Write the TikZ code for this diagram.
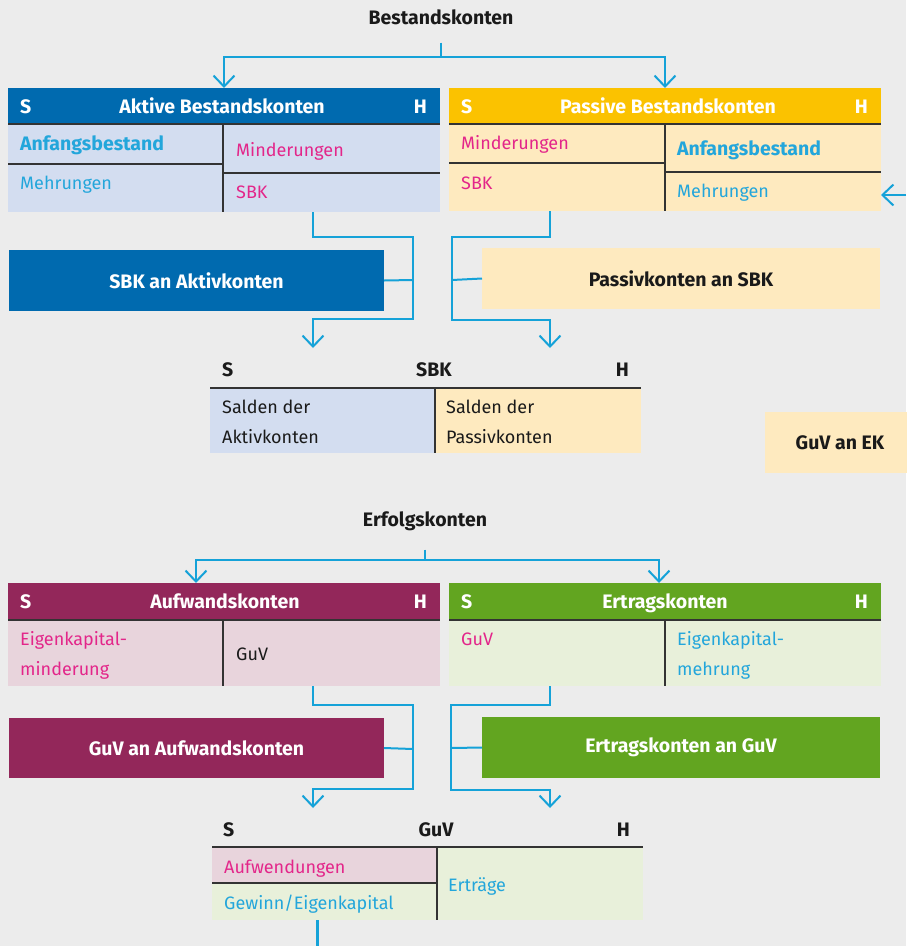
\documentclass[tikz,border=0pt]{standalone}
\usepackage{fontspec}
\setmainfont{Fira Sans}
\usetikzlibrary{arrows.meta,calc}

\definecolor{bg}{HTML}{ECECEC}
\definecolor{aktivH}{HTML}{006AAF}
\definecolor{aktivL}{HTML}{D3DDF0}
\definecolor{passivH}{HTML}{FBC200}
\definecolor{passivL}{HTML}{FEEABF}
\definecolor{aufwH}{HTML}{93275A}
\definecolor{aufwL}{HTML}{E8D4DC}
\definecolor{ertrH}{HTML}{62A520}
\definecolor{ertrL}{HTML}{E8F0DA}
\definecolor{flow}{HTML}{15A2D8}
\definecolor{txtMag}{HTML}{E3268A}
\definecolor{txtCyan}{HTML}{23A6DB}
\definecolor{txtDark}{HTML}{1A1A1A}
\definecolor{ruleDark}{HTML}{333333}

\newcommand\fsz{\fontsize{18}{21}\selectfont}
\newcommand\fsb{\fontsize{19.5}{22}\selectfont\bfseries}

\tikzset{
  cell/.style={anchor=north west, inner sep=0pt, outer sep=0pt, draw=none},
  lbl/.style={anchor=base west, inner sep=0pt, font=\fsz},
  lblB/.style={anchor=base west, inner sep=0pt, font=\fsb},
  lblR/.style={anchor=base east, inner sep=0pt, font=\fsb},
  hdtxt/.style={anchor=base, inner sep=0pt, font=\fsb},
  strong/.style={font=\fsb},
  rulel/.style={draw=ruleDark, line width=1.6pt},
  conn/.style={draw=flow, line width=2pt},
  arr/.style={conn, -{Straight Barb[length=11pt,width=21pt]}},
}

\begin{document}
\begin{tikzpicture}[x=1pt,y=-1pt]
\fill[bg] (0,0) rectangle (906,946);
\useasboundingbox (0,0) rectangle (906,946);

%% ---------------- Bestandskonten ----------------
\node[hdtxt, text=txtDark] (best) at (441,24) {Bestandskonten};

% Aktive Bestandskonten
\node[cell, fill=aktivH, minimum width=432pt, minimum height=36pt] (akh) at (8,88) {};
\node[cell, fill=aktivL, minimum width=432pt, minimum height=88pt] (akb) at (8,124) {};
\node[lblB, text=white] (akS) at (20,113) {S};
\node[lblR, text=white] (akH) at (427,113) {H};
\node[hdtxt, text=white] (akT) at (222,113) {Aktive Bestandskonten};
\draw[rulel] (akb.north west) -- (akb.north east);
\draw[rulel] (223,124) -- (223,212);
\draw[rulel] (8,164) -- (223,164);
\draw[rulel] (223,173) -- (440,173);
\node[lblB, text=txtCyan] (ak1) at (20,150) {Anfangsbestand};
\node[lbl, text=txtCyan] (ak2) at (20,189) {Mehrungen};
\node[lbl, text=txtMag] (ak3) at (236,156) {Minderungen};
\node[lbl, text=txtMag] (ak4) at (236,198) {SBK};

% Passive Bestandskonten
\node[cell, fill=passivH, minimum width=432pt, minimum height=36pt] (pah) at (449,88) {};
\node[cell, fill=passivL, minimum width=432pt, minimum height=87pt] (pab) at (449,124) {};
\node[lblB, text=white] (paS) at (461,113) {S};
\node[lblR, text=white] (paH) at (868,113) {H};
\node[hdtxt, text=white] (paT) at (668,113) {Passive Bestandskonten};
\draw[rulel] (pab.north west) -- (pab.north east);
\draw[rulel] (665,124) -- (665,211);
\draw[rulel] (449,163) -- (665,163);
\draw[rulel] (665,172) -- (881,172);
\node[lbl, text=txtMag] (pa1) at (461,149) {Minderungen};
\node[lbl, text=txtMag] (pa2) at (461,189) {SBK};
\node[lblB, text=txtCyan] (pa3) at (677,155) {Anfangsbestand};
\node[lbl, text=txtCyan] (pa4) at (677,197) {Mehrungen};

% Booking boxes
\node[cell, fill=aktivH, minimum width=375pt, minimum height=61pt, strong, text=white] (sbkak) at (9,250) {SBK an Aktivkonten};
\node[cell, fill=passivL, minimum width=398pt, minimum height=61pt, strong, text=txtDark] (passbk) at (482,248) {Passivkonten an SBK};
\node[cell, fill=passivL, minimum width=150pt, minimum height=61pt, strong, text=txtDark] (guvek) at (765,412) {GuV an EK};

% SBK T-account
\node[lblB, text=txtDark] (sbS) at (222,376) {S};
\node[hdtxt, text=txtDark] (sbT) at (434,376) {SBK};
\node[lblR, text=txtDark] (sbH) at (629,376) {H};
\node[cell, fill=aktivL, minimum width=225pt, minimum height=65pt] (sbl) at (210,388) {};
\node[cell, fill=passivL, minimum width=206pt, minimum height=65pt] (sbr) at (435,388) {};
\draw[rulel] (sbl.north west) -- (sbr.north east);
\draw[rulel] (sbl.north east) -- (sbl.south east);
\node[lbl, text=txtDark] (sb1) at (222,413) {Salden der};
\node[lbl, text=txtDark] (sb2) at (222,443) {Aktivkonten};
\node[lbl, text=txtDark] (sb3) at (446,413) {Salden der};
\node[lbl, text=txtDark] (sb4) at (446,443) {Passivkonten};

% Connectors (Bestandskonten)
\coordinate (bsplit) at (441,57);
\draw[conn, shorten <=18pt] (best.south) -- (bsplit);
\draw[arr] (bsplit) -| (akh.north);
\draw[arr] (bsplit) -| (pah.north);
\coordinate (edgeR) at (906,195);
\draw[arr] (edgeR) -- (pab.east |- edgeR);

\coordinate (akx) at (313,0);
\coordinate (akbus) at (413,280);
\coordinate (sbkinL) at (313,348);
\draw[arr] (akb.south -| akx) -- (313,237) -- (413,237) -- (413,319) -- (313,319) -- (sbkinL);
\draw[conn] (sbkak.east) -- (akbus);

\coordinate (pax) at (550,0);
\coordinate (pabus) at (452,280);
\coordinate (sbkinR) at (550,348);
\draw[arr] (pab.south -| pax) -- (550,237) -- (452,237) -- (452,320) -- (550,320) -- (sbkinR);
\draw[conn] (passbk.west) -- (pabus);

%% ---------------- Erfolgskonten ----------------
\node[hdtxt, text=txtDark] (erf) at (425,526) {Erfolgskonten};

% Aufwandskonten
\node[cell, fill=aufwH, minimum width=432pt, minimum height=37pt] (auh) at (8,583) {};
\node[cell, fill=aufwL, minimum width=432pt, minimum height=66pt] (aub) at (8,620) {};
\node[lblB, text=white] (auS) at (20,608) {S};
\node[lblR, text=white] (auH) at (427,608) {H};
\node[hdtxt, text=white] (auT) at (225,608) {Aufwandskonten};
\draw[rulel] (aub.north west) -- (aub.north east);
\draw[rulel] (223,620) -- (223,686);
\node[lbl, text=txtMag] (au1) at (20,645) {Eigenkapital-};
\node[lbl, text=txtMag] (au2) at (20,675) {minderung};
\node[lbl, text=txtDark] (au3) at (236,660) {GuV};

% Ertragskonten
\node[cell, fill=ertrH, minimum width=432pt, minimum height=37pt] (erh) at (449,583) {};
\node[cell, fill=ertrL, minimum width=432pt, minimum height=66pt] (erb) at (449,620) {};
\node[lblB, text=white] (erS) at (461,608) {S};
\node[lblR, text=white] (erH) at (868,608) {H};
\node[hdtxt, text=white] (erT) at (665,608) {Ertragskonten};
\draw[rulel] (erb.north west) -- (erb.north east);
\draw[rulel] (665,620) -- (665,686);
\node[lbl, text=txtMag] (er1) at (461,645) {GuV};
\node[lbl, text=txtCyan] (er2) at (677,645) {Eigenkapital-};
\node[lbl, text=txtCyan] (er3) at (677,675) {mehrung};

% Booking boxes
\node[cell, fill=aufwH, minimum width=375pt, minimum height=60pt, strong, text=white] (guvau) at (9,718) {GuV an Aufwandskonten};
\node[cell, fill=ertrH, minimum width=398pt, minimum height=61pt, strong, text=white] (ergu) at (482,717) {Ertragskonten an GuV};

% GuV T-account
\node[lblB, text=txtDark] (guS) at (223,836) {S};
\node[hdtxt, text=txtDark] (guT) at (436,836) {GuV};
\node[lblR, text=txtDark] (guH) at (630,836) {H};
\node[cell, fill=aufwL, minimum width=225pt, minimum height=36pt] (gul1) at (212,847) {};
\node[cell, fill=ertrL, minimum width=225pt, minimum height=37pt] (gul2) at (212,883) {};
\node[cell, fill=ertrL, minimum width=206pt, minimum height=73pt] (gur) at (437,847) {};
\draw[rulel] (gul1.north west) -- (gur.north east);
\draw[rulel] (gul1.south west) -- (gul1.south east);
\draw[rulel] (gur.north west) -- (gur.south west);
\node[lbl, text=txtMag] (gu1) at (224,873) {Aufwendungen};
\node[lbl, text=txtCyan] (gu2) at (224,909) {Gewinn/Eigenkapital};
\node[lbl, text=txtCyan] (gu3) at (448,891) {Erträge};

% Connectors (Erfolgskonten)
\coordinate (esplit) at (425,560);
\draw[conn, shorten <=19pt] (erf.south) -- (esplit);
\draw[arr] (esplit) -| (196,583) coordinate (auin);
\draw[arr] (esplit) -| (659,583) coordinate (erin);

\coordinate (aux) at (313,0);
\coordinate (aubus) at (413,749);
\coordinate (guinL) at (313,808);
\draw[arr] (aub.south -| aux) -- (313,705) -- (413,705) -- (413,789) -- (313,789) -- (guinL);
\draw[conn] (guvau.east) -- (aubus);

\coordinate (erx) at (550,0);
\coordinate (erbus) at (451,748);
\coordinate (guinR) at (550,808);
\draw[arr] (erb.south -| erx) -- (550,705) -- (451,705) -- (451,790) -- (550,790) -- (guinR);
\draw[conn] (ergu.west) -- (erbus);

\coordinate (guout) at (317,946);
\draw[conn, line width=3pt] (gul2.south -| guout) -- (guout);

\end{tikzpicture}
\end{document}
